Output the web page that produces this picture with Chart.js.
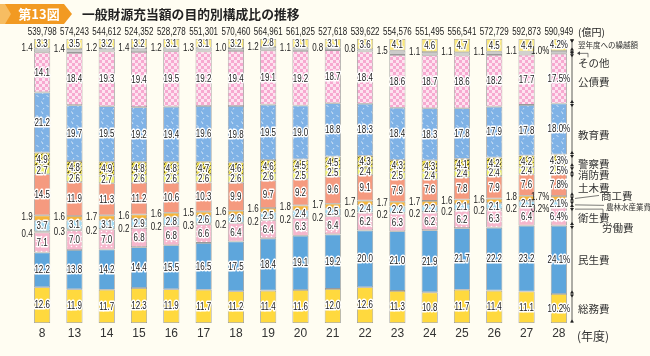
<!DOCTYPE html>
<html><head><meta charset="utf-8">
<script src="https://cdn.jsdelivr.net/npm/chart.js@4/dist/chart.umd.min.js"></script>
<style>html,body{margin:0;padding:0;background:#fffdf2;}#wrap{width:650px;height:356px;position:relative;}</style>
</head><body><div id="wrap"><canvas id="c" width="650" height="356"></canvas></div>
<script>
const years = ['8','13','14','15','16','17','18','19','20','21','22','23','24','25','26','27','28'];
const totals = [539798,574243,544612,524352,528278,551301,570460,564961,561825,527618,539622,554576,551495,556541,572729,592873,590949];
const soumu   = [12.6,11.9,11.7,12.3,11.9,11.7,11.2,11.4,11.6,12.0,12.6,11.3,10.8,11.7,11.4,11.1,10.2];
const minsei  = [12.2,13.8,14.2,14.4,15.5,16.5,17.5,18.4,19.1,19.2,20.0,21.0,21.9,21.7,22.2,23.2,24.1];
const eisei   = [7.1,7.0,7.0,6.8,6.8,6.6,6.4,6.4,6.3,6.4,6.2,6.3,6.2,6.2,6.3,6.4,6.4];
const roudou  = [0.4,0.3,0.2,0.2,0.2,0.3,0.2,0.2,0.2,0.2,0.2,0.2,0.2,0.2,0.2,0.2,0.2];
const nourin  = [3.7,3.1,3.1,2.9,2.8,2.6,2.6,2.5,2.4,2.5,2.4,2.2,2.2,2.1,2.1,2.1,2.1];
const shoukou = [1.9,1.6,1.7,1.6,1.6,1.5,1.6,1.6,1.8,1.7,1.7,1.7,1.7,1.6,1.6,1.8,1.7];
const doboku  = [14.5,11.9,11.3,11.2,10.6,10.3,9.9,9.7,9.2,9.6,9.1,7.9,7.6,7.8,7.9,7.6,7.8];
const shoubou = [2.7,2.6,2.7,2.6,2.6,2.6,2.6,2.6,2.5,2.5,2.4,2.5,2.4,2.4,2.4,2.4,2.5];
const keisatsu= [4.9,4.8,4.9,4.8,4.8,4.7,4.6,4.6,4.5,4.5,4.3,4.3,4.3,4.1,4.2,4.2,4.3];
const kyouiku = [21.2,19.7,19.5,19.2,19.4,19.6,19.8,19.5,19.0,18.8,18.3,18.4,18.3,17.8,17.9,17.8,18.0];
const kousai  = [14.1,18.4,19.3,19.4,19.5,19.2,19.4,19.1,19.2,18.7,18.4,18.6,18.7,18.6,18.2,17.7,17.5];
const sonota  = [1.4,1.4,1.2,1.4,1.2,1.3,1.0,1.2,1.1,0.8,0.8,1.5,1.1,1.1,1.1,1.1,1.0];
const kurikoshi=[3.3,3.5,3.2,3.2,3.1,3.1,3.2,2.8,3.1,3.1,3.6,4.1,4.6,4.7,4.5,4.4,4.2];

function pat(size, bg, draw){
  const c=document.createElement('canvas'); c.width=c.height=size;
  const g=c.getContext('2d'); g.fillStyle=bg; g.fillRect(0,0,size,size); if(draw) draw(g);
  return g.createPattern(c,'repeat');
}
const checkPink = pat(6,'#f7a9d0',g=>{g.fillStyle='#fde3f0';g.fillRect(0,0,3,3);g.fillRect(3,3,3,3);});
const eduBlue = pat(10,'#7fb2e6',g=>{g.strokeStyle='rgba(255,255,255,0.85)';g.lineWidth=0.8;g.beginPath();g.moveTo(1.5,1.5);g.lineTo(3,4);g.moveTo(6.5,5.5);g.lineTo(8.5,6.5);g.moveTo(4,8);g.lineTo(3,9.5);g.stroke();});
const police = pat(4,'#ebdc4c',g=>{g.strokeStyle='#5d5320';g.lineWidth=0.9;g.beginPath();g.moveTo(0,4);g.lineTo(4,0);g.stroke();g.fillStyle='#5d5320';g.fillRect(0,0,1,1);});
const eiseiPat = pat(5,'#f6b6cc',g=>{g.fillStyle='#ffffff';g.beginPath();g.arc(1.5,1.5,0.8,0,Math.PI*2);g.fill();});
const nourinPat = pat(4,'#a3dbf4',g=>{g.fillStyle='#ffffff';g.fillRect(1,1,1,1);});

const series = [
  {name:'総務費', data:soumu, bg:'#ffd93e', mode:'in'},
  {name:'民生費', data:minsei, bg:'#5ea6dc', mode:'in'},
  {name:'衛生費', data:eisei, bg:eiseiPat, mode:'in'},
  {name:'労働費', data:roudou, bg:'#5a5a5a', mode:'left'},
  {name:'農林水産業費', data:nourin, bg:nourinPat, mode:'in'},
  {name:'商工費', data:shoukou, bg:'#f5b53a', mode:'left'},
  {name:'土木費', data:doboku, bg:'#f59a7f', mode:'in'},
  {name:'消防費', data:shoubou, bg:'#eef06a', mode:'in'},
  {name:'警察費', data:keisatsu, bg:police, mode:'in'},
  {name:'教育費', data:kyouiku, bg:eduBlue, mode:'in'},
  {name:'公債費', data:kousai, bg:checkPink, mode:'in'},
  {name:'その他', data:sonota, bg:'#cbcbcb', mode:'left'},
  {name:'翌年度への繰越額', data:kurikoshi, bg:'#fbe87a', mode:'in'}
];

const NUMFONT = '10.5px "Liberation Sans", Arial, sans-serif';
const SX = 0.76;
const last = years.length-1;

function narrow(ctx, t, x, y, align, halo){
  ctx.save(); ctx.translate(x,y); ctx.scale(SX,1);
  ctx.font=NUMFONT; ctx.textAlign=align; ctx.textBaseline='middle';
  if(halo){ ctx.lineJoin='round'; ctx.strokeStyle='#ffffff'; ctx.lineWidth=3; ctx.strokeText(t,0,0); }
  ctx.fillStyle='#222'; ctx.fillText(t,0,0);
  ctx.restore();
}

const deco = {
  id:'deco',
  beforeDraw(chart){
    const ctx=chart.ctx; ctx.save();
    ctx.fillStyle='#fffdf2'; ctx.fillRect(0,0,chart.width,chart.height);
    ctx.fillStyle='#f29a22';
    ctx.beginPath(); ctx.moveTo(0,4); ctx.lineTo(64,4); ctx.lineTo(72,14); ctx.lineTo(64,24); ctx.lineTo(0,24); ctx.closePath(); ctx.fill();
    ctx.fillStyle='#f7bd62';
    ctx.beginPath(); ctx.moveTo(0,4); ctx.lineTo(5,4); ctx.lineTo(11,14); ctx.lineTo(5,24); ctx.lineTo(0,24); ctx.closePath(); ctx.fill();
    ctx.fillStyle='#ffffff'; ctx.font='bold 13px "Noto Sans CJK JP", sans-serif'; ctx.textAlign='center'; ctx.textBaseline='middle';
    ctx.fillText('第13図',39,14.5);
    ctx.fillStyle='#222'; ctx.font='bold 12.8px "Noto Sans CJK JP", sans-serif'; ctx.textAlign='left';
    ctx.fillText('一般財源充当額の目的別構成比の推移',82,14.5);
    ctx.restore();
  },
  afterDatasetsDraw(chart){
    const ctx=chart.ctx; ctx.save();
    const xs = chart.scales.x;
    totals.forEach((t,i)=>{ narrow(ctx, t.toLocaleString('en-US'), xs.getPixelForValue(i), 32, 'center', false); });
    ctx.textAlign='left'; ctx.textBaseline='middle'; ctx.fillStyle='#222'; ctx.font='10px "Noto Sans CJK JP", sans-serif';
    ctx.fillText('(億円)', 578, 32);
    const shIdx = series.findIndex(s=>s.name==='商工費');
    const shMeta = chart.getDatasetMeta(shIdx);
    chart.data.datasets.forEach((ds,di)=>{
      const meta=chart.getDatasetMeta(di);
      const s=series[di];
      meta.data.forEach((bar,i)=>{
        const v=ds.data[i]; const t=v.toFixed(1)+(i===last?'%':'');
        const cy=(bar.y+bar.base)/2;
        if(s.mode==='in'){
          narrow(ctx,t,bar.x,cy+0.5,'center',true);
        } else {
          const xl = bar.x - bar.width/2 - 1.5;
          let y;
          if(s.name==='その他') y = bar.y;
          else if(s.name==='商工費') y = cy - 1;
          else { const sb=shMeta.data[i]; const sy=(sb.y+sb.base)/2-1; y=Math.max(cy+2, sy+10); }
          narrow(ctx,t,xl,y,'right',false);
        }
      });
    });
    const lx = 572;
    const top = chart.getDatasetMeta(series.length-1).data[last].y;
    const bot = chart.getDatasetMeta(0).data[last].base;
    ctx.strokeStyle='#333'; ctx.lineWidth=0.8;
    ctx.beginPath(); ctx.moveTo(lx,top); ctx.lineTo(lx,bot); ctx.stroke();
    ctx.fillStyle='#222';
    const tri=(y,dir)=>{ ctx.beginPath(); ctx.moveTo(lx-2,y); ctx.lineTo(lx+2,y); ctx.lineTo(lx,y+dir*3); ctx.closePath(); ctx.fill(); };
    const bounds=[top,bot];
    series.forEach((s,di)=>{ const b=chart.getDatasetMeta(di).data[last]; if(s.name!=='労働費') bounds.push(b.y); });
    bounds.forEach(y=>{ if(y>top+1) tri(y-0.5,-1); if(y<bot-1) tri(y+0.5,1); });
    const mid = name => { const b=chart.getDatasetMeta(series.findIndex(s=>s.name===name)).data[last]; return (b.y+b.base)/2; };
    ctx.textAlign='left'; ctx.textBaseline='middle'; ctx.fillStyle='#333';
    const F='10.5px "Noto Sans CJK JP", sans-serif';
    const lab=(t,x,y,f)=>{ ctx.font=f||F; ctx.fillText(t,x,y); };
    lab('翌年度への繰越額',578,mid('翌年度への繰越額'),'7.5px "Noto Sans CJK JP", sans-serif');
    lab('その他',578,mid('その他')+11);
    lab('公債費',578,mid('公債費')+3);
    lab('教育費',578,mid('教育費')+6);
    lab('警察費',578,mid('警察費')+3);
    lab('消防費',578,mid('消防費')+5);
    lab('土木費',578,mid('土木費')+3);
    lab('商工費',601,mid('商工費')-2);
    lab('農林水産業費',606,mid('農林水産業費')+3.5,'7.5px "Noto Sans CJK JP", sans-serif');
    lab('衛生費',578,mid('衛生費')+2);
    lab('労働費',602,mid('労働費')+21);
    lab('民生費',578,mid('民生費'));
    lab('総務費',578,mid('総務費'));
    ctx.strokeStyle='#444'; ctx.lineWidth=0.7;
    const yo=mid('その他');
    ctx.beginPath(); ctx.moveTo(578,yo+1); ctx.lineTo(588,yo+1); ctx.lineTo(588,yo+5); ctx.stroke();
    ctx.beginPath(); ctx.moveTo(577,yo+1); ctx.lineTo(580,yo-1); ctx.lineTo(580,yo+3); ctx.closePath(); ctx.fillStyle='#444'; ctx.fill();
    const ys=mid('商工費'); ctx.beginPath(); ctx.moveTo(575,ys); ctx.lineTo(599,ys-3); ctx.stroke();
    const yn=mid('農林水産業費'); ctx.beginPath(); ctx.moveTo(575,yn+1); ctx.lineTo(604,yn+1.5); ctx.stroke();
    const yr=mid('労働費'); ctx.beginPath(); ctx.moveTo(575,yr+2); ctx.lineTo(603,yr+2); ctx.lineTo(603,yr+14); ctx.stroke();
    ctx.fillStyle='#333'; ctx.font='12px "Noto Sans CJK JP", sans-serif'; ctx.textBaseline='middle';
    ctx.fillText('(年度)',577,336);
    ctx.restore();
  }
};

new Chart(document.getElementById('c'),{
  type:'bar',
  data:{ labels:years, datasets: series.map(s=>({label:s.name, data:s.data, backgroundColor:s.bg, borderColor:'#999999', borderWidth:0.8, borderSkipped:false, clip:false})) },
  options:{
    responsive:false, animation:false, devicePixelRatio:1,
    layout:{padding:{left:26,right:75,top:39,bottom:12.6}},
    plugins:{legend:{display:false}, tooltip:{enabled:false}},
    datasets:{bar:{categoryPercentage:1, barPercentage:0.5}},
    scales:{
      x:{stacked:true, grid:{display:false, drawTicks:false}, border:{display:false},
         ticks:{padding:3, color:'#333', font:{family:'"Liberation Sans", sans-serif', size:12}}},
      y:{stacked:true, display:false, min:0, max:100}
    }
  },
  plugins:[deco]
});
</script></body></html>
